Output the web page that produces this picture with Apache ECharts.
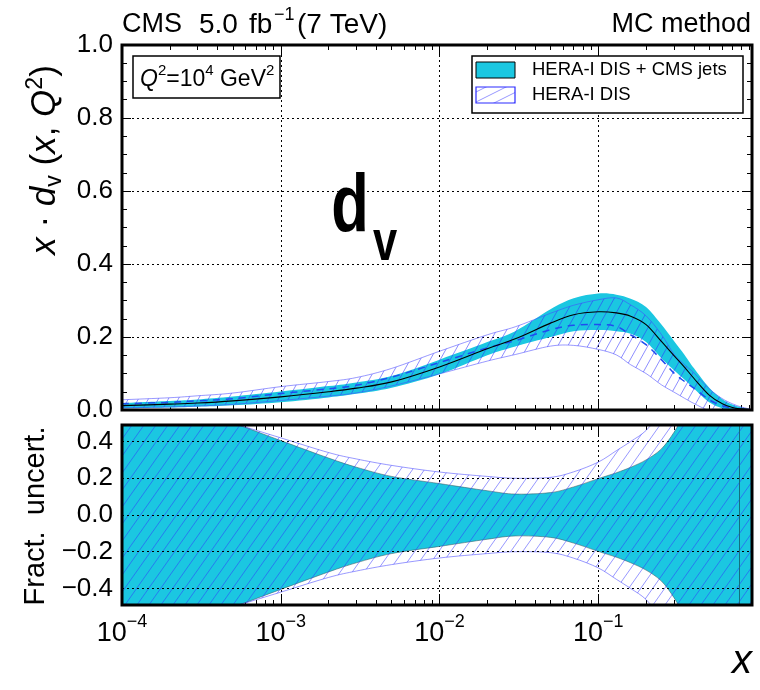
<!DOCTYPE html>
<html>
<head>
<meta charset="utf-8">
<script src="https://cdn.jsdelivr.net/npm/echarts@6/dist/echarts.min.js"></script>
<style>
html, body { margin: 0; padding: 0; background: #fff; }
#chart { width: 760px; height: 690px; }
</style>
</head>
<body>
<div id="chart"></div>
<script>
// Parton momentum fraction x
const xValues = [1e-4, 2e-4, 3e-4, 5e-4, 1e-3, 2e-3, 3e-3, 5e-3, 0.01, 0.02, 0.03, 0.05, 0.07,
  0.1, 0.13, 0.16, 0.2, 0.25, 0.3, 0.35, 0.4, 0.5, 0.6, 0.7, 0.8, 0.93];

// Central x*d_v at Q^2 = 10^4 GeV^2
const cmsCentral = [0.012, 0.016, 0.019, 0.025, 0.036, 0.050, 0.060, 0.077, 0.118, 0.168, 0.195, 0.238, 0.261,
  0.269, 0.266, 0.257, 0.234, 0.188, 0.149, 0.117, 0.087, 0.041, 0.018, 0.007, 0.003, 0.0005];
const heraCentral = [0.017, 0.021, 0.025, 0.031, 0.045, 0.058, 0.068, 0.090, 0.130, 0.170, 0.190, 0.220, 0.232,
  0.234, 0.229, 0.206, 0.179, 0.138, 0.101, 0.078, 0.060, 0.028, 0.012, 0.005, 0.002, 0.0005];

// Absolute uncertainty (half width) of x*d_v
const cmsAbsUnc = [0.0075, 0.009, 0.010, 0.012, 0.0145, 0.0155, 0.0156, 0.016, 0.020, 0.018, 0.021, 0.038, 0.045,
  0.050, 0.050, 0.048, 0.048, 0.046, 0.040, 0.034, 0.028, 0.020, 0.013, 0.008, 0.004, 0.001];
const heraAbsUnc = [0.011, 0.0126, 0.014, 0.0155, 0.019, 0.020, 0.021, 0.024, 0.031, 0.036, 0.038, 0.045, 0.055,
  0.068, 0.078, 0.082, 0.079, 0.069, 0.052, 0.046, 0.042, 0.030, 0.020, 0.012, 0.006, 0.001];

// Fractional uncertainties (symmetric)
const cmsFracUnc = [0.62, 0.58, 0.55, 0.50, 0.405, 0.31, 0.26, 0.21, 0.171, 0.132, 0.114, 0.122, 0.153,
  0.198, 0.23, 0.26, 0.30, 0.36, 0.45, 0.55, 0.60, 0.65, 0.70, 0.80, 1.0, 1.0];
const heraFracUnc = [0.65, 0.60, 0.56, 0.50, 0.42, 0.34, 0.305, 0.27, 0.234, 0.21, 0.20, 0.205, 0.235,
  0.288, 0.35, 0.40, 0.46, 0.56, 0.62, 0.66, 0.70, 0.75, 0.80, 0.90, 1.0, 1.0];

// Minor tick positions on the log axis (2..9 per decade)
const minorXTicks = [];
[1e-4, 1e-3, 1e-2, 1e-1].forEach(d => { for (let k = 2; k <= 9; k++) minorXTicks.push(+(k * d).toPrecision(3)); });
const minorRatioTicks = [-0.3, -0.1, 0.1, 0.3];
const ratioGridValues = [-0.4, -0.2, 0, 0.2, 0.4];

const X_MIN = 1e-4, X_MAX = 0.93;
const FONT = "'Liberation Sans', Arial, Helvetica, sans-serif";
const CYAN = '#1bc7e1';
const HERA_LINE = 'rgba(70,70,255,0.55)';

function hatchPattern(w, h, color, lw) {
  const c = document.createElement('canvas');
  c.width = w; c.height = h;
  const g = c.getContext('2d');
  g.strokeStyle = color; g.lineWidth = lw;
  for (const off of [-h, 0, h]) {
    g.beginPath();
    g.moveTo(-1, h + off + h / w);
    g.lineTo(w + 1, off - h / w);
    g.stroke();
  }
  return { image: c, repeat: 'repeat' };
}
const hatchTop = hatchPattern(10, 18, 'rgba(50,50,255,0.55)', 1);
const hatchBottom = hatchPattern(12, 17, 'rgba(50,50,255,0.5)', 1);
const hatchLegend = hatchPattern(20, 10, 'rgba(50,50,255,0.5)', 1);

// Catmull-Rom segments through pixel points
function curveSegments(pts) {
  let d = '';
  for (let i = 0; i < pts.length - 1; i++) {
    const p0 = pts[i - 1] || pts[i], p1 = pts[i], p2 = pts[i + 1], p3 = pts[i + 2] || pts[i + 1];
    const c1 = [p1[0] + (p2[0] - p0[0]) / 6, p1[1] + (p2[1] - p0[1]) / 6];
    const c2 = [p2[0] - (p3[0] - p1[0]) / 6, p2[1] - (p3[1] - p1[1]) / 6];
    d += ' C' + c1[0] + ' ' + c1[1] + ' ' + c2[0] + ' ' + c2[1] + ' ' + p2[0] + ' ' + p2[1];
  }
  return d;
}
function clipRect(params) {
  const cs = params.coordSys;
  return { type: 'rect', shape: { x: cs.x, y: cs.y, width: cs.width, height: cs.height } };
}

// Filled band between two curves
function band(xi, yi, lower, upper, style, z) {
  return {
    type: 'custom', coordinateSystem: 'cartesian2d', xAxisIndex: xi, yAxisIndex: yi, silent: true, z,
    data: [[1e-3, 0]],
    renderItem: (params, api) => {
      const up = xValues.map((x, i) => api.coord([x, upper[i]]));
      const dn = xValues.map((x, i) => api.coord([x, lower[i]])).reverse();
      const d = 'M' + up[0][0] + ' ' + up[0][1] + curveSegments(up) +
        ' L' + dn[0][0] + ' ' + dn[0][1] + curveSegments(dn) + ' Z';
      return { type: 'path', shape: { pathData: d }, style, clipPath: clipRect(params) };
    }
  };
}
// Single curve
function curve(xi, yi, values, style, z) {
  return {
    type: 'custom', coordinateSystem: 'cartesian2d', xAxisIndex: xi, yAxisIndex: yi, silent: true, z,
    data: [[1e-3, 0]],
    renderItem: (params, api) => {
      const pts = xValues.map((x, i) => api.coord([x, values[i]]));
      const d = 'M' + pts[0][0] + ' ' + pts[0][1] + curveSegments(pts);
      return { type: 'path', shape: { pathData: d }, style: Object.assign({ fill: 'none' }, style), clipPath: clipRect(params) };
    }
  };
}

// Upper panel bands
const cmsLo = cmsCentral.map((c, i) => c - cmsAbsUnc[i]);
const cmsHi = cmsCentral.map((c, i) => c + cmsAbsUnc[i]);
const heraLo = heraCentral.map((c, i) => c - heraAbsUnc[i]);
const heraHi = heraCentral.map((c, i) => c + heraAbsUnc[i]);
// Lower panel bands
const cmsRatioLo = cmsFracUnc.map(f => -f);
const heraRatioLo = heraFracUnc.map(f => -f);

function xAxes(gridIndex, labels) {
  const base = { type: 'log', logBase: 10, min: X_MIN, max: X_MAX, gridIndex, axisLine: { show: false, onZero: false } };
  const major = { inside: true, length: 11, lineStyle: { color: '#000', width: 1 } };
  const minor = { inside: true, length: 5, customValues: minorXTicks, lineStyle: { color: '#000', width: 1 } };
  return [
    Object.assign({}, base, {
      position: 'bottom', axisTick: major,
      splitLine: { show: true, lineStyle: { color: '#000', width: 1, type: [2, 3] } },
      axisLabel: labels ? {
        show: true, margin: 8, showMaxLabel: false, showMinLabel: true,
        formatter: v => '{b|10}{s|\u2212' + Math.round(-Math.log10(v)) + '}',
        rich: {
          b: { fontSize: 27, fontFamily: FONT, color: '#000', verticalAlign: 'bottom', lineHeight: 34 },
          s: { fontSize: 18, fontFamily: FONT, color: '#000', verticalAlign: 'top', lineHeight: 34 }
        }
      } : { show: false }
    }),
    Object.assign({}, base, { position: 'bottom', axisTick: minor, axisLabel: { show: false }, splitLine: { show: false } }),
    Object.assign({}, base, { position: 'top', axisTick: major, axisLabel: { show: false }, splitLine: { show: false } }),
    Object.assign({}, base, { position: 'top', axisTick: minor, axisLabel: { show: false }, splitLine: { show: false } })
  ];
}

const yLabelStyle = { fontSize: 26, fontFamily: FONT, color: '#000', margin: 9 };
const yAxes = [
  // upper panel
  { type: 'value', gridIndex: 0, position: 'left', min: 0, max: 1, interval: 0.2,
    axisLine: { show: false },
    axisTick: { inside: true, length: 9, lineStyle: { color: '#000' } },
    minorTick: { show: true, splitNumber: 4, length: 5, lineStyle: { color: '#000' } },
    splitLine: { show: true, lineStyle: { color: '#000', width: 1, type: [2, 3] } },
    axisLabel: Object.assign({ formatter: v => v.toFixed(1) }, yLabelStyle) },
  { type: 'value', gridIndex: 0, position: 'right', min: 0, max: 1, interval: 0.2,
    axisLine: { show: false },
    axisTick: { inside: true, length: 9, lineStyle: { color: '#000' } },
    minorTick: { show: true, splitNumber: 4, length: 5, lineStyle: { color: '#000' } },
    splitLine: { show: false }, axisLabel: { show: false } },
  // lower panel
  { type: 'value', gridIndex: 1, position: 'left', min: -0.49, max: 0.49, splitNumber: 5,
    axisLine: { show: false },
    axisTick: { inside: true, length: 9, lineStyle: { color: '#000' } },
    splitLine: { show: false },
    axisLabel: Object.assign({ showMinLabel: false, showMaxLabel: false,
      formatter: v => (v < -1e-9 ? '\u2212' : '') + Math.abs(v).toFixed(1) }, yLabelStyle) },
  { type: 'value', gridIndex: 1, position: 'right', min: -0.49, max: 0.49, splitNumber: 5,
    axisLine: { show: false },
    axisTick: { inside: true, length: 9, lineStyle: { color: '#000' } },
    splitLine: { show: false }, axisLabel: { show: false } },
  { type: 'value', gridIndex: 1, position: 'left', min: -0.49, max: 0.49,
    axisLine: { show: false }, splitLine: { show: false }, axisLabel: { show: false },
    axisTick: { inside: true, length: 5, customValues: minorRatioTicks, lineStyle: { color: '#000' } } },
  { type: 'value', gridIndex: 1, position: 'right', min: -0.49, max: 0.49,
    axisLine: { show: false }, splitLine: { show: false }, axisLabel: { show: false },
    axisTick: { inside: true, length: 5, customValues: minorRatioTicks, lineStyle: { color: '#000' } } }
];

const heraEdge = { stroke: HERA_LINE, lineWidth: 1 };
const series = [
  // upper panel: x*d_v
  band(0, 0, cmsLo, cmsHi, { fill: CYAN }, 1),
  band(0, 0, heraLo, heraHi, { fill: hatchTop }, 2),
  curve(0, 0, heraHi, heraEdge, 3),
  curve(0, 0, heraLo, heraEdge, 3),
  curve(0, 0, heraCentral, { stroke: '#1f4cf0', lineWidth: 1.5, lineDash: [7, 6] }, 4),
  curve(0, 0, cmsCentral, { stroke: '#000', lineWidth: 1.1 }, 5),
  // lower panel: fractional uncertainty
  band(4, 2, cmsRatioLo, cmsFracUnc, { fill: CYAN, stroke: 'rgba(60,90,100,0.55)', lineWidth: 1 }, 1),
  band(4, 2, heraRatioLo, heraFracUnc, { fill: hatchBottom }, 2),
  curve(4, 2, heraFracUnc, heraEdge, 3),
  curve(4, 2, heraRatioLo, heraEdge, 3),
  { type: 'line', xAxisIndex: 4, yAxisIndex: 2, data: [], silent: true, z: 6,
    markLine: { silent: true, symbol: 'none', label: { show: false },
      lineStyle: { color: '#000', width: 1, type: [2, 3] },
      data: ratioGridValues.map(v => ({ yAxis: v })) } },
  { type: 'line', xAxisIndex: 4, yAxisIndex: 2, data: [], silent: true, z: 6,
    markLine: { silent: true, symbol: 'none', label: { show: false },
      lineStyle: { color: '#14707f', width: 1, type: 'solid' },
      data: [{ xAxis: 0.77 }] } }
];

const head = (text, x, size, dy) => ({ type: 'text', x, y: 25 + (dy || 0),
  style: { text, font: size + 'px ' + FONT, fill: '#000', verticalAlign: 'middle' } });

const graphic = [
  head('CMS', 122, 27),
  head('5.0', 199, 28),
  head('fb', 249, 28),
  head('\u22121', 274, 18, -10),
  head('(7 TeV)', 297, 28),
  { type: 'text', x: 751, y: 25, style: { text: 'MC method', font: '27px ' + FONT, fill: '#000',
      align: 'right', verticalAlign: 'middle' } },
  // Q^2 box
  { type: 'rect', shape: { x: 133, y: 56, width: 147, height: 42 }, style: { fill: '#fff', stroke: '#000', lineWidth: 1.5 }, z: 20 },
  { type: 'text', x: 140, y: 77, z: 21, style: {
      text: '{i|Q}{s|2}{t|=10}{s|4}{t| GeV}{s|2}', verticalAlign: 'middle',
      rich: { i: { fontSize: 23, fontFamily: FONT, fontStyle: 'italic', fill: '#000', verticalAlign: 'bottom', lineHeight: 28 },
              t: { fontSize: 23, fontFamily: FONT, fill: '#000', verticalAlign: 'bottom', lineHeight: 28 },
              s: { fontSize: 15, fontFamily: FONT, fill: '#000', verticalAlign: 'top', lineHeight: 28 } } } },
  // legend
  { type: 'rect', shape: { x: 472, y: 56, width: 271, height: 57 }, style: { fill: '#fff', stroke: '#000', lineWidth: 1.5 }, z: 20 },
  { type: 'rect', shape: { x: 476, y: 62, width: 39, height: 16 }, style: { fill: CYAN, stroke: '#000', lineWidth: 1 }, z: 21 },
  { type: 'rect', shape: { x: 476, y: 87, width: 39, height: 16 }, style: { fill: hatchLegend, stroke: '#2a2aff', lineWidth: 1.2 }, z: 21 },
  { type: 'text', x: 532, y: 70, z: 21, style: { text: 'HERA-I DIS + CMS jets', font: '18.5px ' + FONT, fill: '#000', verticalAlign: 'middle' } },
  { type: 'text', x: 532, y: 95, z: 21, style: { text: 'HERA-I DIS', font: '18.5px ' + FONT, fill: '#000', verticalAlign: 'middle' } },
  // big parton label
  { type: 'text', x: 350, y: 208, scaleX: 0.75, z: 20,
    style: { text: 'd', font: 'bold 82px ' + FONT, fill: '#000', align: 'center', verticalAlign: 'middle' } },
  { type: 'text', x: 385, y: 244, scaleX: 0.75, z: 20,
    style: { text: 'v', font: 'bold 58px ' + FONT, fill: '#000', align: 'center', verticalAlign: 'middle' } },
  // axis titles
  { type: 'text', x: 45, y: 160, rotation: Math.PI / 2, style: {
      text: '{i|x}{t| \u00b7 }{i|d}{u|v}{t| (}{i|x}{t|, }{i|Q}{s|2}{t|)}', align: 'center', verticalAlign: 'middle',
      rich: { i: { fontSize: 35, fontFamily: FONT, fontStyle: 'italic', fill: '#000', verticalAlign: 'middle', lineHeight: 42 },
              t: { fontSize: 35, fontFamily: FONT, fill: '#000', verticalAlign: 'middle', lineHeight: 42 },
              u: { fontSize: 23, fontFamily: FONT, fill: '#000', verticalAlign: 'bottom', lineHeight: 42 },
              s: { fontSize: 23, fontFamily: FONT, fill: '#000', verticalAlign: 'top', lineHeight: 42 } } } },
  { type: 'text', x: 36, y: 516, rotation: Math.PI / 2, style: {
      text: 'Fract.  uncert.', font: '29px ' + FONT, fill: '#000', align: 'center', verticalAlign: 'middle' } },
  { type: 'text', x: 742, y: 662, style: { text: 'x', font: 'italic 40px ' + FONT, fill: '#000', align: 'center', verticalAlign: 'middle' } }
];

const option = {
  animation: false,
  backgroundColor: '#fff',
  grid: [
    { left: 122, right: 8, top: 45, height: 365, show: true, borderColor: '#000', borderWidth: 3, backgroundColor: 'transparent', z: 10 },
    { left: 122, right: 8, top: 425, height: 180, show: true, borderColor: '#000', borderWidth: 3, backgroundColor: 'transparent', z: 10 }
  ],
  xAxis: [...xAxes(0, false), ...xAxes(1, true)],
  yAxis: yAxes,
  series,
  graphic
};

const chart = echarts.init(document.getElementById('chart'), null, { renderer: 'canvas' });
chart.setOption(option);
</script>
</body>
</html>
